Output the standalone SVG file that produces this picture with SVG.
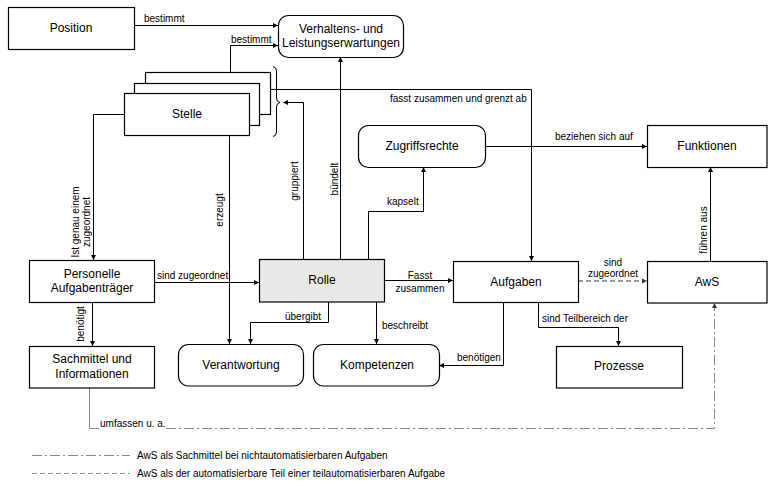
<svg xmlns="http://www.w3.org/2000/svg" width="768" height="483" viewBox="0 0 768 483">
  <defs>
    <marker id="arr" markerWidth="5" markerHeight="5" refX="5" refY="2.5" orient="auto" markerUnits="userSpaceOnUse">
      <path d="M0,0 L5,2.5 L0,5 z" fill="#000"/>
    </marker>
    <marker id="arrg" markerWidth="5" markerHeight="5" refX="5" refY="2.5" orient="auto" markerUnits="userSpaceOnUse">
      <path d="M0,0 L5,2.5 L0,5 z" fill="#333"/>
    </marker>
    <style>
      .box { fill: #fff; stroke: #000; stroke-width: 1.2; }
      .grey { fill: #e8e8e8; }
      .lbl { font-family: "Liberation Sans", Arial, sans-serif; font-size: 12px; fill: #000; text-anchor: middle; }
      .ctext { font-family: "Liberation Sans", Arial, sans-serif; font-size: 10px; fill: #000; }
      .mid { text-anchor: middle; }
      .ln { fill: none; stroke: #000; stroke-width: 1; }
      .arr { marker-end: url(#arr); }
      .dash { fill: none; stroke: #999; stroke-width: 2; stroke-dasharray: 5 3; }
      .dashdot { fill: none; stroke: #888; stroke-width: 1; stroke-dasharray: 10 3 2 3; }
    </style>
  </defs>

  <rect width="768" height="483" fill="#fff"/>

  <!-- connectors -->
  <g id="connectors">
    <path class="ln arr" d="M134,25.5 H278"/>
    <path class="ln arr" d="M230.5,72 V45.5 H278"/>
    <path class="ln arr" d="M124,114.5 H93.5 V260"/>
    <path class="ln arr" d="M229.5,136 V344"/>
    <path class="ln arr" d="M269,89.5 H531.5 V261"/>
    <path class="ln arr" d="M303.5,259 V102.5 H283"/>
    <path class="ln arr" d="M340.5,259 V57"/>
    <path class="ln arr" d="M368.5,259 V211.5 H423.5 V167"/>
    <path class="ln arr" d="M485,146.5 H647"/>
    <path class="ln arr" d="M154,282.5 H259"/>
    <path class="ln arr" d="M384,280.5 H453"/>
    <path class="dash" d="M578,281 H643"/>
    <path d="M642,278.5 L647,281 L642,283.5 z" fill="#333"/>
    <path class="ln arr" d="M710.5,261 V167"/>
    <path class="ln arr" d="M328.5,302 V322.5 H250.5 V344"/>
    <path class="ln arr" d="M376.5,302 V344"/>
    <path class="ln arr" d="M503.5,302 V365.5 H439"/>
    <path class="ln arr" d="M538.5,302 V327.5 H618.5 V346"/>
    <path class="ln arr" d="M92.5,302 V346"/>
    <path class="ln" d="M89.5,388 V428.5 H99" stroke="#888" style="stroke:#888"/>
    <path class="dashdot" d="M166,428.5 H714.5 V307"/>
    <path d="M712,308 L714.5,303 L717,308 z" fill="#333"/>
    <!-- brace grouping the Stelle stack -->
    <path class="ln" d="M273,66.5 Q276.5,67 276.5,71 V98 Q276.5,102 280,102.5 Q276.5,103 276.5,107 V132 Q276.5,136 273,136.5"/>

    <text class="ctext" x="144" y="22">bestimmt</text>
    <text class="ctext" x="231" y="43">bestimmt</text>
    <text class="ctext" x="390" y="102">fasst zusammen und grenzt ab</text>
    <text class="ctext" x="555" y="140">beziehen sich auf</text>
    <text class="ctext" x="387" y="205">kapselt</text>
    <text class="ctext" x="157" y="279">sind zugeordnet</text>
    <text class="ctext mid" x="420" y="279">Fasst</text>
    <text class="ctext mid" x="420" y="292">zusammen</text>
    <text class="ctext mid" x="613" y="266">sind</text>
    <text class="ctext mid" x="613" y="277">zugeordnet</text>
    <text class="ctext" x="285" y="320">übergibt</text>
    <text class="ctext" x="382" y="329">beschreibt</text>
    <text class="ctext" x="457" y="361">benötigen</text>
    <text class="ctext" x="542" y="322">sind Teilbereich der</text>
    <text class="ctext" x="100" y="427">umfassen u. a.</text>

    <text class="ctext mid" transform="translate(79,222) rotate(-90)">Ist genau einem</text>
    <text class="ctext mid" transform="translate(89.5,222) rotate(-90)">zugeordnet</text>
    <text class="ctext mid" transform="translate(222.5,210) rotate(-90)">erzeugt</text>
    <text class="ctext mid" transform="translate(298,181) rotate(-90)">gruppiert</text>
    <text class="ctext mid" transform="translate(338,179) rotate(-90)">bündelt</text>
    <text class="ctext mid" transform="translate(84,324) rotate(-90)">benötigt</text>
    <text class="ctext mid" transform="translate(707,230) rotate(-90)">führen aus</text>
  </g>

  <!-- nodes -->
  <g id="position">
    <rect class="box" x="8.5" y="7.5" width="126" height="42"/>
    <text class="lbl" x="71" y="32">Position</text>
  </g>
  <g id="erwartungen">
    <rect class="box" x="278.5" y="15.5" width="125" height="42" rx="10"/>
    <text class="lbl" x="341" y="33">Verhaltens- und</text>
    <text class="lbl" x="341" y="47">Leistungserwartungen</text>
  </g>
  <g id="stelle">
    <rect class="box" x="145.5" y="72.5" width="125" height="42"/>
    <rect class="box" x="134.5" y="83.5" width="125" height="42"/>
    <rect class="box" x="124.5" y="93.5" width="125" height="42"/>
    <text class="lbl" x="187" y="118">Stelle</text>
  </g>
  <g id="zugriffsrechte">
    <rect class="box" x="358.5" y="125.5" width="127" height="42" rx="10"/>
    <text class="lbl" x="422" y="150">Zugriffsrechte</text>
  </g>
  <g id="funktionen">
    <rect class="box" x="647.5" y="125.5" width="119.5" height="42"/>
    <text class="lbl" x="707" y="150">Funktionen</text>
  </g>
  <g id="personelle">
    <rect class="box" x="29.5" y="260.5" width="125" height="42"/>
    <text class="lbl" x="92" y="278">Personelle</text>
    <text class="lbl" x="92" y="292">Aufgabenträger</text>
  </g>
  <g id="rolle">
    <rect class="box grey" x="259.5" y="259.5" width="125" height="42.5"/>
    <text class="lbl" x="322" y="284">Rolle</text>
  </g>
  <g id="aufgaben">
    <rect class="box" x="453.5" y="261.5" width="125" height="41"/>
    <text class="lbl" x="516" y="286">Aufgaben</text>
  </g>
  <g id="aws">
    <rect class="box" x="647.5" y="261.5" width="119.5" height="41.5"/>
    <text class="lbl" x="707" y="286">AwS</text>
  </g>
  <g id="sachmittel">
    <rect class="box" x="29.5" y="346.5" width="125" height="41.5"/>
    <text class="lbl" x="92" y="363">Sachmittel und</text>
    <text class="lbl" x="92" y="378">Informationen</text>
  </g>
  <g id="verantwortung">
    <rect class="box" x="178.5" y="344.5" width="125" height="41.5" rx="10"/>
    <text class="lbl" x="241" y="369">Verantwortung</text>
  </g>
  <g id="kompetenzen">
    <rect class="box" x="313.5" y="344.5" width="126" height="41.5" rx="10"/>
    <text class="lbl" x="377" y="369">Kompetenzen</text>
  </g>
  <g id="prozesse">
    <rect class="box" x="556.5" y="346.5" width="126" height="41.5"/>
    <text class="lbl" x="619" y="370">Prozesse</text>
  </g>

  <!-- legend -->
  <g id="legend">
    <path class="dashdot" d="M32,455.5 H130"/>
    <text class="ctext" x="137" y="459">AwS als Sachmittel bei nichtautomatisierbaren Aufgaben</text>
    <path class="dash" d="M32,473.5 H130" style="stroke-width:1"/>
    <text class="ctext" x="137" y="477">AwS als der automatisierbare Teil einer teilautomatisierbaren Aufgabe</text>
  </g>
</svg>
